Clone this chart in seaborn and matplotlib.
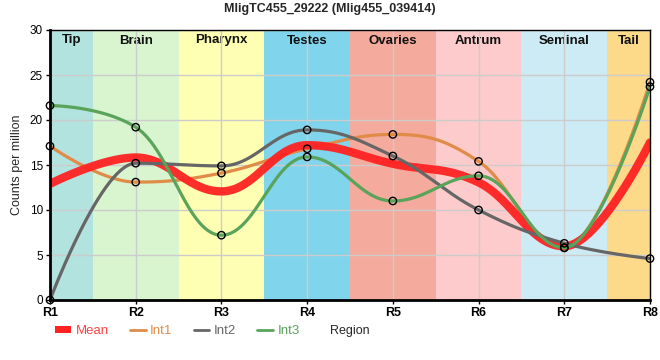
import numpy as np
import pandas as pd
import matplotlib
matplotlib.use("Agg")
import matplotlib.pyplot as plt
import seaborn as sns
from matplotlib.lines import Line2D
from matplotlib.patches import Patch

# ---- data ----
regions = ["R1", "R2", "R3", "R4", "R5", "R6", "R7", "R8"]
int1 = [17.1, 13.1, 14.1, 16.8, 18.4, 15.4, 5.8, 24.2]
int2 = [0.0, 15.2, 14.9, 18.9, 16.0, 10.0, 6.3, 4.6]
int3 = [21.6, 19.2, 7.2, 15.9, 11.0, 13.8, 5.8, 23.7]
band_names = ["Tip", "Brain", "Pharynx", "Testes", "Ovaries", "Antrum", "Seminal", "Tail"]
band_colors = ["#b3e3de", "#d8f5cf", "#ffffb3", "#80d4eb", "#f4aa9c", "#fdcbcb", "#cdebf5", "#fdd98a"]

mean = list(np.mean([int1, int2, int3], axis=0))


def spline_path(y, n=60):
    """Highcharts-style 'spline' smoothing of a series (rendering only)."""
    y = list(map(float, y))
    x = list(range(len(y)))
    sm = 1.5
    den = sm + 1
    left = [None] * len(y)
    right = [None] * len(y)
    for i in range(1, len(y) - 1):
        px, py = x[i], y[i]
        lx, ly = x[i - 1], y[i - 1]
        nx, ny = x[i + 1], y[i + 1]
        lcx = (sm * px + lx) / den
        lcy = (sm * py + ly) / den
        rcx = (sm * px + nx) / den
        rcy = (sm * py + ny) / den
        corr = 0.0
        if rcx != lcx:
            corr = ((rcy - lcy) * (rcx - px)) / (rcx - lcx) + py - rcy
        lcy += corr
        rcy += corr
        if lcy > ly and lcy > py:
            lcy = max(ly, py)
            rcy = 2 * py - lcy
        elif lcy < ly and lcy < py:
            lcy = min(ly, py)
            rcy = 2 * py - lcy
        if rcy > ny and rcy > py:
            rcy = max(ny, py)
            lcy = 2 * py - rcy
        elif rcy < ny and rcy < py:
            rcy = min(ny, py)
            lcy = 2 * py - rcy
        left[i] = (lcx, lcy)
        right[i] = (rcx, rcy)
    xs, ys = [], []
    for i in range(len(y) - 1):
        p0 = np.array([x[i], y[i]])
        p3 = np.array([x[i + 1], y[i + 1]])
        p1 = np.array(right[i]) if right[i] is not None else p0
        p2 = np.array(left[i + 1]) if left[i + 1] is not None else p3
        t = np.linspace(0, 1, n, endpoint=(i == len(y) - 2))[:, None]
        pts = ((1 - t) ** 3) * p0 + 3 * ((1 - t) ** 2) * t * p1 + 3 * (1 - t) * t ** 2 * p2 + t ** 3 * p3
        xs.append(pts[:, 0])
        ys.append(pts[:, 1])
    return np.concatenate(xs), np.concatenate(ys)


sns.set_theme(style="white")
plt.rcParams["font.family"] = ["Liberation Sans", "DejaVu Sans"]

fig = plt.figure(figsize=(6.6, 3.6), dpi=100)
ax = fig.add_axes([50 / 660, 60 / 360, 600 / 660, 270 / 360])

# background bands
edges = [0, 0.5, 1.5, 2.5, 3.5, 4.5, 5.5, 6.5, 7]
for i, (name, col) in enumerate(zip(band_names, band_colors)):
    ax.axvspan(edges[i], edges[i + 1], color=col, lw=0, zorder=0)
    ax.text((edges[i] + edges[i + 1]) / 2, 29.5, name, ha="center", va="top",
            fontsize=9.5, fontweight="bold", color="#111111", zorder=1)

for v in range(8):
    ax.axvline(v, color="#cccccc", lw=1, zorder=1)
for v in range(0, 31, 5):
    ax.axhline(v, color="#cccccc", lw=1, zorder=1)

c_mean, c1, c2, c3 = "#ff2222", "#e08c48", "#666666", "#5aa35a"


def draw(vals, col, lw, z, alpha=1.0):
    xs, ys = spline_path(vals)
    sns.lineplot(data=pd.DataFrame({"x": xs, "y": ys}), x="x", y="y", ax=ax,
                 color=col, lw=lw, zorder=z, sort=False, alpha=alpha)


draw(int1, c1, 2.3, 3)
draw(mean, c_mean, 6, 4, alpha=0.95)
draw(int2, c2, 2.3, 5)
draw(int3, c3, 2.3, 5)

pts = pd.DataFrame({
    "x": list(range(8)) * 3,
    "y": int1 + int2 + int3,
})
sns.scatterplot(data=pts, x="x", y="y", ax=ax, s=28, facecolor="none",
                edgecolor="black", linewidth=1, zorder=7, clip_on=False)

ax.set_xlim(0, 7)
ax.set_ylim(0, 30)
ax.set_xticks(range(8))
ax.set_xticklabels(regions, fontsize=9, fontweight="bold")
ax.set_yticks(range(0, 31, 5))
ax.tick_params(axis="y", labelsize=8.5, length=3, width=1, pad=2)
ax.tick_params(axis="x", length=3, width=1, pad=2)
ax.tick_params(axis="both", direction="out", colors="black", bottom=True, left=True)
ax.set_xlabel("")
ax.set_ylabel("Counts per million", fontsize=9, labelpad=5)
for s in ["left", "bottom"]:
    ax.spines[s].set_linewidth(2)
    ax.spines[s].set_color("black")
for s in ["top", "right"]:
    ax.spines[s].set_linewidth(1)
    ax.spines[s].set_color("black")
for sp in ax.spines.values():
    sp.set_zorder(6)

fig.text(330 / 660, 1 - 9 / 360, "MligTC455_29222 (Mlig455_039414)", ha="center", va="center",
         fontsize=9, fontweight="bold")
fig.text(350 / 660, 1 - 331 / 360, "Region", ha="center", va="center", fontsize=9)

handles = [
    Patch(facecolor=c_mean, edgecolor="none"),
    Line2D([], [], color=c1, lw=2),
    Line2D([], [], color=c2, lw=2),
    Line2D([], [], color=c3, lw=2),
]
leg = fig.legend(handles, ["Mean", "Int1", "Int2", "Int3"], loc="center left",
                 bbox_to_anchor=(55 / 660, 1 - 331 / 360), ncol=4, frameon=False,
                 fontsize=9.5, handlelength=1.2, handleheight=0.5, handletextpad=0.35,
                 columnspacing=1.6, borderaxespad=0, borderpad=0)
for t, c in zip(leg.get_texts(), ["#ff4444", c1, c2, c3]):
    t.set_color(c)

fig.savefig("out.png", dpi=100)
